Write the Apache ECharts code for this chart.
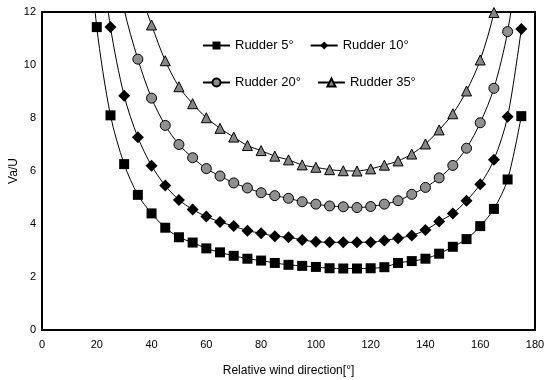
<!DOCTYPE html>
<html>
<head>
<meta charset="utf-8">
<script src="https://cdn.jsdelivr.net/npm/echarts@6/dist/echarts.min.js"></script>
<style>
  html, body { margin: 0; padding: 0; background: #fff; }
  #chart { width: 550px; height: 380px; }
</style>
</head>
<body>
<div id="chart"></div>
<script>
// relative wind direction [deg]
const angles = [15, 20, 25, 30, 35, 40, 45, 50, 55, 60, 65, 70, 75, 80, 85, 90, 95,
  100, 105, 110, 115, 120, 125, 130, 135, 140, 145, 150, 155, 160, 165, 170, 175]

// Va/U (values above 12 run off the top of the plot)
const rudder5 = [17.0, 11.43, 8.1, 6.26, 5.1, 4.4, 3.86, 3.5, 3.3, 3.08, 2.93, 2.8, 2.69, 2.62, 2.53, 2.46, 2.42,
  2.38, 2.33, 2.32, 2.32, 2.33, 2.37, 2.53, 2.6, 2.69, 2.88, 3.14, 3.43, 3.92, 4.57, 5.68, 8.07]
const rudder10 = [null, 15.5, 11.43, 8.84, 7.27, 6.2, 5.45, 4.91, 4.55, 4.28, 4.08, 3.92, 3.75, 3.65, 3.54, 3.5, 3.4,
  3.33, 3.31, 3.31, 3.31, 3.31, 3.38, 3.46, 3.57, 3.77, 4.09, 4.4, 4.88, 5.5, 6.42, 8.05, 11.36]
const rudder20 = [null, null, 15.0, 12.1, 10.22, 8.75, 7.72, 7.0, 6.5, 6.09, 5.81, 5.55, 5.36, 5.18, 5.07, 4.97, 4.84,
  4.75, 4.68, 4.65, 4.62, 4.66, 4.75, 4.88, 5.12, 5.38, 5.74, 6.21, 6.86, 7.82, 9.12, 11.26, 14.8]
const rudder35 = [null, null, null, null, 13.0, 11.51, 10.16, 9.18, 8.54, 8.01, 7.61, 7.28, 6.96, 6.77, 6.56, 6.42, 6.23,
  6.14, 6.05, 6.01, 6.0, 6.08, 6.22, 6.38, 6.64, 7.02, 7.55, 8.16, 9.02, 10.19, 11.98, 15.0, null]

const seriesNames = ['Rudder 5°', 'Rudder 10°', 'Rudder 20°', 'Rudder 35°']

const xTicks = [0, 20, 40, 60, 80, 100, 120, 140, 160, 180]
const yTicks = [0, 2, 4, 6, 8, 10, 12]

const font = 'Liberation Sans, Arial, sans-serif'

const pairs = (vals) => angles.map((a, i) => [a, vals[i]]).filter(p => p[1] !== null)

const mkSeries = (name, vals, symbol, size, fill) => ({
  name: name,
  type: 'line',
  data: pairs(vals),
  smooth: 0.3,
  clip: true,
  symbol: symbol,
  symbolSize: size,
  showAllSymbol: true,
  lineStyle: { color: '#000', width: 1 },
  itemStyle: { color: fill, borderColor: '#000', borderWidth: fill === '#000' ? 0 : 1 },
  emphasis: { disabled: true },
  z: 3,
})

const legendBase = {
  left: 197,
  itemWidth: 27, itemHeight: 10, itemGap: 16,
  textStyle: { fontFamily: font, fontSize: 13, color: '#000' },
}

const chart = echarts.init(document.getElementById('chart'), null, { renderer: 'canvas' })

chart.setOption({
  animation: false,
  backgroundColor: '#fff',
  textStyle: { fontFamily: font, color: '#000' },
  grid: {
    left: 42, right: 15, top: 12, bottom: 50,
    outerBoundsMode: 'none',
    containLabel: false,
    show: true, borderColor: '#000', borderWidth: 2, backgroundColor: 'transparent',
  },
  legend: [
    Object.assign({ data: [seriesNames[0], seriesNames[1]], top: 34 }, legendBase),
    Object.assign({ data: [seriesNames[2], seriesNames[3]], top: 71 }, legendBase),
  ],
  xAxis: {
    type: 'value',
    min: xTicks[0], max: xTicks[xTicks.length - 1], interval: 20,
    name: 'Relative wind direction[°]',
    nameLocation: 'middle', nameGap: 35,
    nameMoveOverlap: false,
    nameTextStyle: { fontFamily: font, fontSize: 12, color: '#000' },
    axisLine: { lineStyle: { color: '#000', width: 2 } },
    axisTick: { show: false },
    axisLabel: { fontFamily: font, fontSize: 11, color: '#000', margin: 9 },
    splitLine: { show: false },
  },
  yAxis: {
    type: 'value',
    min: yTicks[0], max: yTicks[yTicks.length - 1], interval: 2,
    name: 'Va/U',
    nameLocation: 'middle', nameGap: 22,
    nameMoveOverlap: false,
    nameTextStyle: { fontFamily: font, fontSize: 12, color: '#000' },
    axisLine: { show: true, lineStyle: { color: '#000', width: 2 } },
    axisTick: { show: false },
    axisLabel: { fontFamily: font, fontSize: 11, color: '#000', margin: 6 },
    splitLine: { show: false },
  },
  series: [
    mkSeries(seriesNames[0], rudder5, 'rect', 10, '#000'),
    mkSeries(seriesNames[1], rudder10, 'diamond', 12, '#000'),
    mkSeries(seriesNames[2], rudder20, 'circle', 10, '#909090'),
    mkSeries(seriesNames[3], rudder35, 'triangle', 10, '#858585'),
  ],
})
</script>
</body>
</html>
